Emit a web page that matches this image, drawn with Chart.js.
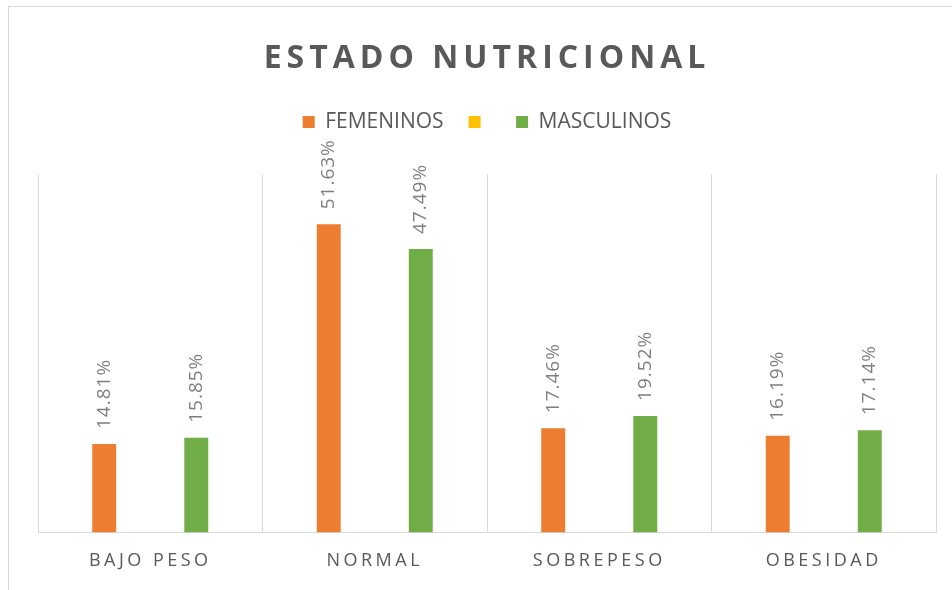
<!DOCTYPE html>
<html>
<head>
<meta charset="utf-8">
<script src="https://cdn.jsdelivr.net/npm/chart.js@4"></script>
<style>
    body { margin: 0; background: #fff; }
    #wrap { position: relative; width: 952px; height: 590px; overflow: hidden; }
    #frame { position: absolute; left: 8px; top: 6px; width: 1000px; height: 700px;
             border-left: 1px solid #d9d9d9; border-top: 1px solid #d9d9d9; }
    #chartBox { position: absolute; left: 0; top: 0; width: 952px; height: 590px; }
</style>
</head>
<body>
<div id="wrap">
    <div id="frame"></div>
    <div id="chartBox"><canvas id="myChart"></canvas></div>
</div>
<script>
    var categories = ['BAJO PESO', 'NORMAL', 'SOBREPESO', 'OBESIDAD'];
    var femeninos = [14.81, 51.63, 17.46, 16.19];
    var masculinos = [15.85, 47.49, 19.52, 17.14];
    var sinDatos = [null, null, null, null];

    Chart.defaults.font.family = '"Open Sans", sans-serif';
    Chart.defaults.color = '#595959';

    // wraps a draw method so its text is drawn with extra letter spacing
    function spaced(obj, method, px) {
        if (!obj || obj['_plain_' + method]) return;
        var plain = obj[method];
        obj['_plain_' + method] = plain;
        obj[method] = function () {
            var ctx = this.ctx;
            var prev = ctx.letterSpacing;
            ctx.letterSpacing = px;
            plain.apply(this, arguments);
            ctx.letterSpacing = prev;
        };
    }

    var letterSpacing = {
        id: 'letterSpacing',
        beforeDraw: function (chart) {
            spaced(chart.titleBlock, 'draw', '5px');
            spaced(chart.scales.x, 'drawLabels', '3.5px');
        }
    };

    // percentage written vertically above each bar
    var barLabels = {
        id: 'barLabels',
        afterDatasetsDraw: function (chart) {
            var ctx = chart.ctx;
            ctx.save();
            ctx.font = '19px "Open Sans"';
            ctx.letterSpacing = '1px';
            ctx.fillStyle = '#7f7f7f';
            ctx.textAlign = 'left';
            ctx.textBaseline = 'middle';
            chart.data.datasets.forEach(function (ds, i) {
                chart.getDatasetMeta(i).data.forEach(function (bar, j) {
                    var v = ds.data[j];
                    if (v == null) return;
                    ctx.save();
                    ctx.translate(bar.x, bar.y - 15);
                    ctx.rotate(-Math.PI / 2);
                    ctx.fillText(v.toFixed(2) + '%', 0, 0);
                    ctx.restore();
                });
            });
            ctx.restore();
        }
    };

    var data = {
        labels: categories,
        datasets: [{
            label: 'FEMENINOS',
            data: femeninos,
            backgroundColor: '#ed7d31'
        }, {
            label: '',
            data: sinDatos,
            backgroundColor: '#ffc000'
        }, {
            label: 'MASCULINOS',
            data: masculinos,
            backgroundColor: '#70ad47'
        }]
    };

    var config = {
        type: 'bar',
        data: data,
        options: {
            responsive: true,
            maintainAspectRatio: false,
            animation: false,
            categoryPercentage: 0.615,
            barPercentage: 0.52,
            layout: {
                padding: { left: 38, right: 16, top: 0, bottom: 0 }
            },
            plugins: {
                tooltip: { enabled: false },
                title: {
                    display: true,
                    text: 'ESTADO NUTRICIONAL',
                    color: '#595959',
                    font: { size: 32, weight: 'bold' },
                    padding: { top: 40, bottom: 8 }
                },
                legend: {
                    labels: {
                        boxWidth: 12,
                        boxHeight: 12,
                        padding: 25,
                        color: '#595959',
                        font: { size: 21 }
                    }
                },
                // empty block that keeps the plot clear of the legend
                subtitle: {
                    display: true,
                    text: '',
                    weight: 500,
                    font: { size: 10, lineHeight: 1 },
                    padding: { top: 0, bottom: 22 }
                }
            },
            scales: {
                x: {
                    grid: { color: '#d9d9d9', drawTicks: false },
                    border: { color: '#d9d9d9' },
                    ticks: { color: '#595959', padding: 18, font: { size: 18 } }
                },
                y: {
                    display: false,
                    min: 0,
                    max: 60
                }
            }
        },
        plugins: [letterSpacing, barLabels]
    };

    var myChart = new Chart(
        document.getElementById('myChart').getContext('2d'),
        config
    );
</script>
</body>
</html>
